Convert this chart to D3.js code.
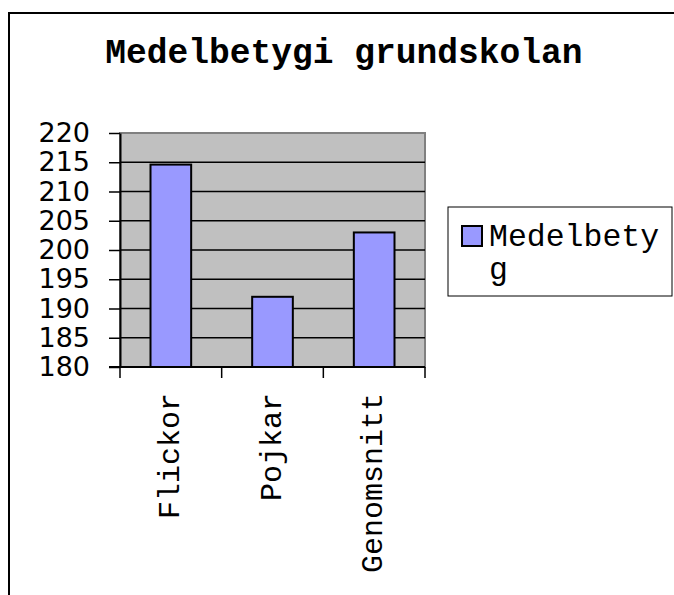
<!DOCTYPE html>
<html>
<head>
<meta charset="utf-8">
<script src="https://cdn.jsdelivr.net/npm/d3@7"></script>
<style>
  body { margin: 0; background: #fff; }
  svg { display: block; }
</style>
</head>
<body>
<svg></svg>
<script>
var width = 674;
var height = 595;

// data
var categories = ["Flickor", "Pojkar", "Genomsnitt"];
var values = [214.6, 192, 203];
var yTicks = [180, 185, 190, 195, 200, 205, 210, 215, 220];
var seriesName = "Medelbetyg";
var title = "Medelbetygi grundskolan";

var plot = { "left": 120, "right": 425, "top": 133, "bottom": 367 };

var svg = d3.select("svg")
            .attr("width", width)
            .attr("height", height);

// outer chart frame (runs off the right and bottom edges)
svg.append("rect")
   .attr("x", 9)
   .attr("y", 13)
   .attr("width", 720)
   .attr("height", 640)
   .attr("fill", "#fff")
   .attr("stroke", "#000")
   .attr("stroke-width", 2);

svg.append("text")
   .attr("x", 344)
   .attr("y", 63)
   .attr("text-anchor", "middle")
   .style("font-family", "'Liberation Mono', 'Courier New', monospace")
   .style("font-weight", "bold")
   .style("font-size", "34.6px")
   .text(title);

var scaleX = d3.scaleBand()
               .domain(categories)
               .range([plot.left, plot.right])
               .paddingInner(0.6)
               .paddingOuter(0.3);

var scaleY = d3.scaleLinear()
               .domain([180, 220])
               .range([plot.bottom, plot.top]);

// plot area background
svg.append("rect")
   .attr("x", plot.left)
   .attr("y", plot.top)
   .attr("width", plot.right - plot.left)
   .attr("height", plot.bottom - plot.top)
   .attr("fill", "#c0c0c0")
   .attr("stroke", "#808080")
   .attr("stroke-width", 2);

// gridlines
svg.selectAll(".grid")
   .data(yTicks.filter(function(d) { return d > 180 && d < 220; }))
   .enter()
   .append("line")
   .attr("class", "grid")
   .attr("x1", plot.left)
   .attr("x2", plot.right)
   .attr("y1", function(d) { return scaleY(d); })
   .attr("y2", function(d) { return scaleY(d); })
   .attr("stroke", "#000")
   .attr("stroke-width", 1.3);

// bars
svg.selectAll(".bar")
   .data(values)
   .enter()
   .append("rect")
   .attr("class", "bar")
   .attr("x", function(d, i) { return scaleX(categories[i]); })
   .attr("y", function(d) { return scaleY(d); })
   .attr("width", scaleX.bandwidth())
   .attr("height", function(d) { return plot.bottom - scaleY(d); })
   .attr("fill", "#9999ff")
   .attr("stroke", "#000")
   .attr("stroke-width", 2);

// y axis
var yAxis = d3.axisLeft(scaleY)
              .tickValues(yTicks)
              .tickSizeInner(11)
              .tickSizeOuter(0)
              .tickPadding(19);

var gy = svg.append("g")
            .attr("transform", "translate(" + plot.left + ",0)")
            .call(yAxis);
gy.select(".domain").attr("stroke-width", 2);
gy.selectAll(".tick line").attr("stroke-width", 1.5);
gy.selectAll(".tick text")
  .attr("fill", "#000")
  .style("font-family", "'DejaVu Sans', Verdana, sans-serif")
  .style("font-size", "27px");

// x axis: tick marks sit on the category boundaries
var boundaries = d3.range(categories.length + 1).map(function(i) {
  return plot.left + i * scaleX.step();
});

svg.append("line")
   .attr("x1", plot.left - 11)
   .attr("x2", plot.right)
   .attr("y1", plot.bottom)
   .attr("y2", plot.bottom)
   .attr("stroke", "#000")
   .attr("stroke-width", 2);

svg.selectAll(".xtick")
   .data(boundaries)
   .enter()
   .append("line")
   .attr("class", "xtick")
   .attr("x1", function(d) { return d; })
   .attr("x2", function(d) { return d; })
   .attr("y1", plot.bottom)
   .attr("y2", plot.bottom + 11)
   .attr("stroke", "#000")
   .attr("stroke-width", 1.5);

svg.selectAll(".xlabel")
   .data(categories)
   .enter()
   .append("text")
   .attr("class", "xlabel")
   .attr("text-anchor", "end")
   .attr("transform", function(d) {
     var cx = scaleX(d) + scaleX.bandwidth() / 2 + 8;
     return "translate(" + cx + "," + 393 + ") rotate(-90)";
   })
   .style("font-family", "'Liberation Mono', 'Courier New', monospace")
   .style("font-size", "30px")
   .text(function(d) { return d; });

// legend
var legend = svg.append("g");

legend.append("rect")
      .attr("x", 448)
      .attr("y", 207)
      .attr("width", 224)
      .attr("height", 89)
      .attr("fill", "#fff")
      .attr("stroke", "#000")
      .attr("stroke-width", 1);

legend.append("rect")
      .attr("x", 462)
      .attr("y", 226)
      .attr("width", 20)
      .attr("height", 20)
      .attr("fill", "#9999ff")
      .attr("stroke", "#000")
      .attr("stroke-width", 2);

// the name wraps inside the legend box
var legendLines = [seriesName.slice(0, 9), seriesName.slice(9)];
legend.selectAll(".ltext")
      .data(legendLines)
      .enter()
      .append("text")
      .attr("class", "ltext")
      .attr("x", 489)
      .attr("y", function(d, i) { return 246 + i * 33; })
      .style("font-family", "'Liberation Mono', 'Courier New', monospace")
      .style("font-size", "31.5px")
      .text(function(d) { return d; });
</script>
</body>
</html>
